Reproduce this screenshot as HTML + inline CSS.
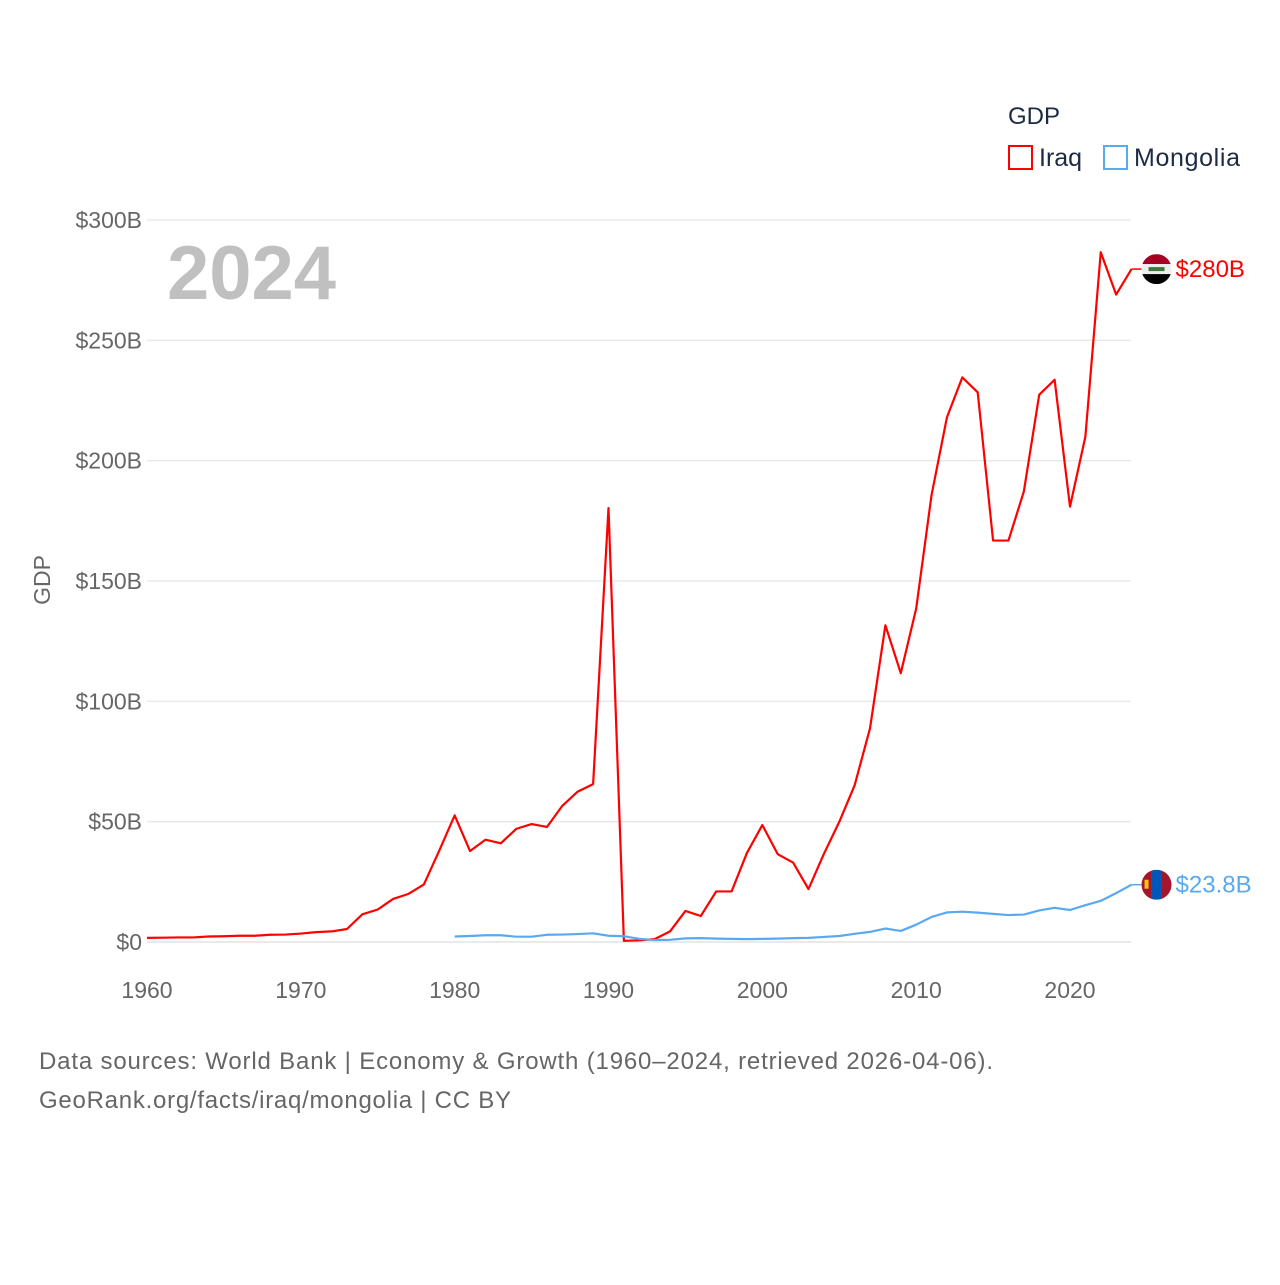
<!DOCTYPE html>
<html><head><meta charset="utf-8"><style>
body{margin:0;background:#fff;font-family:"Liberation Sans",sans-serif;}
#c{position:relative;width:1280px;height:1280px;}
</style></head><body><div id="c">
<svg id="s" width="1280" height="1280">
<g id="grid"></g>
<g id="lines"></g>
<text x="167" y="299" font-size="76" font-weight="bold" fill="#c0c0c0">2024</text>
<text x="50" y="580" font-size="23" fill="#666" transform="rotate(-90 50 580)" text-anchor="middle">GDP</text>
<text x="1008" y="124" font-size="24" fill="#1d2a44">GDP</text>
<g><rect x="1009" y="146" width="23" height="23" fill="none" stroke="#f00" stroke-width="2"/><text x="1039" y="166" font-size="25" fill="#1d2a44">Iraq</text></g>
<g><rect x="1104" y="146" width="23" height="23" fill="none" stroke="#5aa9ef" stroke-width="2"/><text x="1134" y="166" font-size="25" fill="#1d2a44" textLength="106">Mongolia</text></g>
<text x="39" y="1069" font-size="24" fill="#666" textLength="954">Data sources: World Bank | Economy &amp; Growth (1960–2024, retrieved 2026-04-06).</text>
<text x="39" y="1108" font-size="24" fill="#666" textLength="472">GeoRank.org/facts/iraq/mongolia | CC BY</text>
</svg></div>
<script>
const iraqYears=[];for(let y=1960;y<=2024;y++)iraqYears.push(y);
const iraqValues=[1.7,1.8,1.9,1.9,2.3,2.4,2.6,2.6,3.0,3.1,3.5,4.1,4.4,5.4,11.5,13.5,17.9,20.0,23.9,38,52.6,37.8,42.5,41,47,49,47.8,56.6,62.5,65.6,180.3,0.5,0.7,1.2,4.4,12.9,10.8,21,21,37,48.6,36.5,33,22,36.6,49.9,65.1,88.8,131.6,111.7,138.5,185.7,218,234.6,228.4,166.8,166.8,187.2,227.4,233.6,180.9,210,286.6,269,279.6];
const mongoliaYears=[];for(let y=1980;y<=2024;y++)mongoliaYears.push(y);
const mongoliaValues=[2.3,2.5,2.8,2.8,2.2,2.2,3.0,3.1,3.3,3.6,2.6,2.4,1.3,0.8,0.9,1.5,1.6,1.4,1.3,1.2,1.3,1.4,1.6,1.7,2.1,2.5,3.4,4.2,5.6,4.6,7.2,10.4,12.3,12.6,12.2,11.7,11.2,11.4,13.1,14.2,13.3,15.3,17.1,20.3,23.8];
const yTicks=[0,50,100,150,200,250,300];
const yTickLabels=["$0","$50B","$100B","$150B","$200B","$250B","$300B"];
const xTicks=[1960,1970,1980,1990,2000,2010,2020];
const NS="http://www.w3.org/2000/svg";
const X=y=>147+(y-1960)*(1070-147)/60;
const Y=v=>942-v*(942-220)/300;
function mk(t,a,p){const e=document.createElementNS(NS,t);for(const k in a)e.setAttribute(k,a[k]);p.appendChild(e);return e;}
const g=document.getElementById('grid');
yTicks.forEach((v,i)=>{
 const l=mk('line',{x1:147,x2:1131,y1:Y(v),y2:Y(v),stroke:v===0?'#ddd':'#e8e8e8','stroke-width':1.3},g);
 
 
 const t=mk('text',{x:142,y:Y(v)+8,'text-anchor':'end','font-size':23,fill:'#666'},g);t.textContent=yTickLabels[i];
 
 
});
xTicks.forEach(v=>{
 const t=mk('text',{x:X(v),y:998,'text-anchor':'middle','font-size':23,fill:'#666'},g);t.textContent=v;
 
 
});
const L=document.getElementById('lines');
function series(xs,vs,col,name,label,flag){
 const p=mk('polyline',{points:xs.map((x,i)=>X(x)+','+Y(vs[i])).join(' '),fill:'none',stroke:col,'stroke-width':2.2,'stroke-linejoin':'round'},L);
 
 
 const lx=X(xs[xs.length-1]),ly=Y(vs[vs.length-1]);
 mk('line',{x1:lx,x2:lx+10,y1:ly,y2:ly,stroke:col,'stroke-width':1.5},L);
 const fg=mk('g',{},L);
 
 
 flag(fg,lx+25,ly);
 const t=mk('text',{x:lx+44,y:ly+8,'font-size':24,fill:col},L);t.textContent=label;
 
 
}
series(iraqYears,iraqValues,'#ff0000','iraq','$'+Math.round(iraqValues[iraqValues.length-1])+'B',(p,cx,cy)=>{
 mk('clipPath',{id:'ci'},p);mk('circle',{cx,cy,r:15},document.getElementById('ci'));
 const q=mk('g',{'clip-path':'url(#ci)'},p);
 mk('rect',{x:cx-15,y:cy-15,width:30,height:10,fill:'#a50021'},q);
 mk('rect',{x:cx-15,y:cy-5,width:30,height:10,fill:'#eee'},q);
 mk('rect',{x:cx-15,y:cy+5,width:30,height:10,fill:'#000'},q);
 mk('rect',{x:cx-8,y:cy-2,width:16,height:4,fill:'#3a7a3a'},q);
});
series(mongoliaYears,mongoliaValues,'#5aa9ef','mongolia','$'+mongoliaValues[mongoliaValues.length-1]+'B',(p,cx,cy)=>{
 mk('clipPath',{id:'cm'},p);mk('circle',{cx,cy,r:15},document.getElementById('cm'));
 const q=mk('g',{'clip-path':'url(#cm)'},p);
 mk('rect',{x:cx-15,y:cy-15,width:10,height:30,fill:'#a3162e'},q);
 mk('rect',{x:cx-5,y:cy-15,width:10,height:30,fill:'#0057b8'},q);
 mk('rect',{x:cx+5,y:cy-15,width:10,height:30,fill:'#a3162e'},q);
 mk('rect',{x:cx-12,y:cy-5,width:4,height:9,fill:'#f7c600'},q);
});
</script></body></html>
